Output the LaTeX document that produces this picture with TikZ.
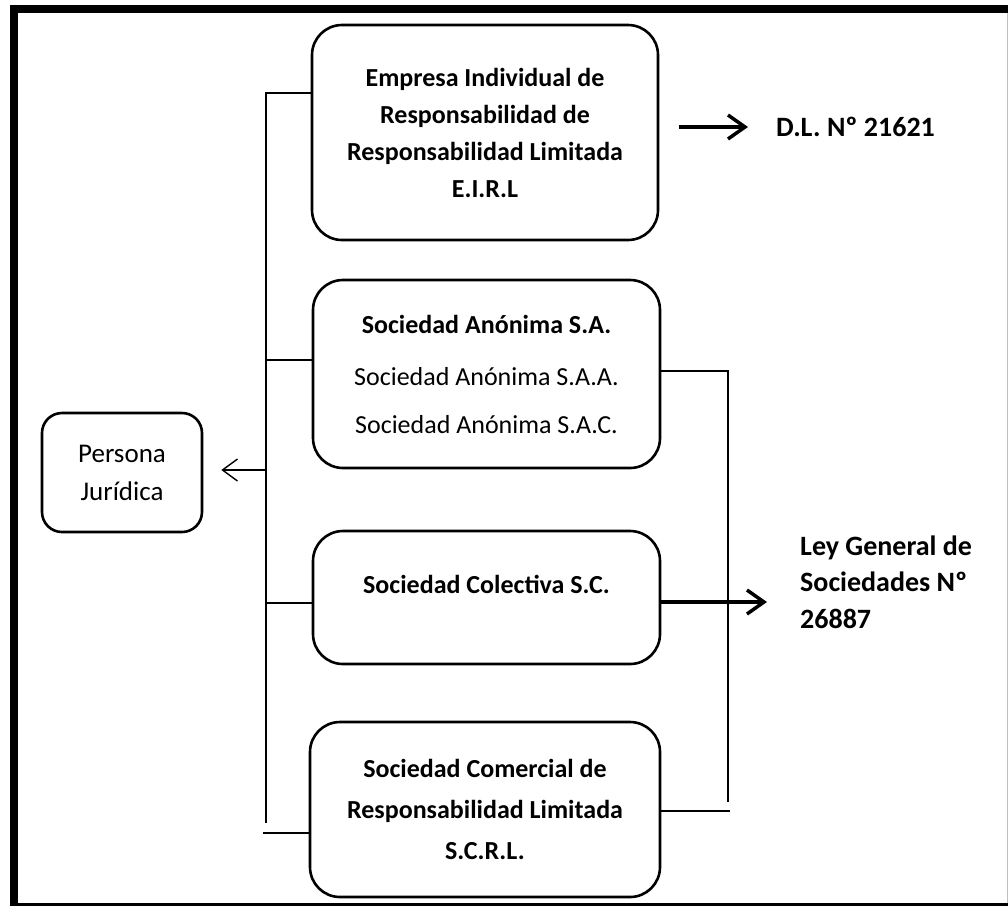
\documentclass[tikz,border=0pt]{standalone}
\usepackage{fontspec}
\setmainfont{Carlito}
\usetikzlibrary{arrows.meta}
\begin{document}
\begin{tikzpicture}[x=1pt,y=-1pt,
  box/.style={draw, line width=2.6pt, rounded corners=30pt, align=center,
    font=\fontsize{26}{37}\selectfont\bfseries, inner sep=0pt},
  pjbox/.style={draw, line width=2.6pt, rounded corners=20pt, align=center,
    font=\fontsize{27}{38}\selectfont, inner sep=0pt},
  lawtext/.style={anchor=west, align=left, inner sep=0pt,
    font=\fontsize{28}{36.5}\selectfont\bfseries},
  bus/.style={line width=1.4pt},
  thinarrow/.style={line width=1.4pt, -{Straight Barb[length=15pt,width=22pt]}},
  thickarrow/.style={line width=3.5pt, -{Straight Barb[length=17pt,width=24pt]}}
]
\useasboundingbox (0,0) rectangle (1008,906);
% frame
\fill (10,5) rectangle (1008,12.5);
\fill (10,5) rectangle (18,906);
\fill (10,903) rectangle (1008,906);
\draw[black!25, line width=1pt] (1007,12.5) -- (1007,903);

% boxes
\node[box, minimum width=346pt, minimum height=215pt] (eirl) at (485,132.5)
  {Empresa Individual de\\Responsabilidad de\\Responsabilidad Limitada\\E.I.R.L};
\node[box, minimum width=347pt, minimum height=188pt] (sa) at (486.5,374)
  {Sociedad Anónima S.A.\\[15pt]{\mdseries Sociedad Anónima S.A.A.}\\[11pt]{\mdseries Sociedad Anónima S.A.C.}};
\node[box, minimum width=347pt, minimum height=133pt,
  label={[font=\fontsize{26}{37}\selectfont\bfseries, yshift=13pt]center:Sociedad Colectiva S.C.}] (sc) at (486.5,597.5) {};
\node[box, minimum width=350pt, minimum height=175pt] (scrl) at (485,809.5)
  {Sociedad Comercial de\\[4pt]Responsabilidad Limitada\\[4pt]S.C.R.L.};
\node[pjbox, minimum width=160pt, minimum height=119pt] (pj) at (122,472.5)
  {Persona\\Jurídica};

% law texts
\node[lawtext] (dl) at (776,127) {D.L. Nº 21621};
\node[lawtext] (ley) at (800,582) {Ley General de\\Sociedades Nº\\26887};

% left bus
\coordinate (lt) at (266,93);
\coordinate (lb) at (266,823);
\coordinate (lb2) at (263,833);
\coordinate (pja) at ([xshift=18pt]pj.east);
\draw[bus] (eirl.west |- lt) -- (lt) -- (lb);
\draw[bus] (sa.west |- 0,360) -- (lt |- 0,360);
\draw[bus] (sc.west |- 0,603) -- (lt |- 0,603);
\draw[bus] (scrl.west |- lb2) -- (lb2);
\draw[thinarrow] (lt |- 0,470) -- (pja |- 0,470);

% right bus
\coordinate (rt) at (728,371);
\coordinate (rb) at (728,802);
\coordinate (rb2) at (730,811);
\draw[bus] (sa.east |- rt) -- (rt) -- (rb);
\draw[bus] (scrl.east |- rb2) -- (rb2);

% thick arrows
\coordinate (dls) at ([xshift=20pt]eirl.east);
\coordinate (dle) at ([xshift=-28pt]dl.west);
\draw[thickarrow] (dls |- dle) -- (dle);
\coordinate (lge) at ([xshift=-33pt]ley.west);
\draw[thickarrow] (sc.east |- 0,602) -- (lge |- 0,602);
\end{tikzpicture}
\end{document}
